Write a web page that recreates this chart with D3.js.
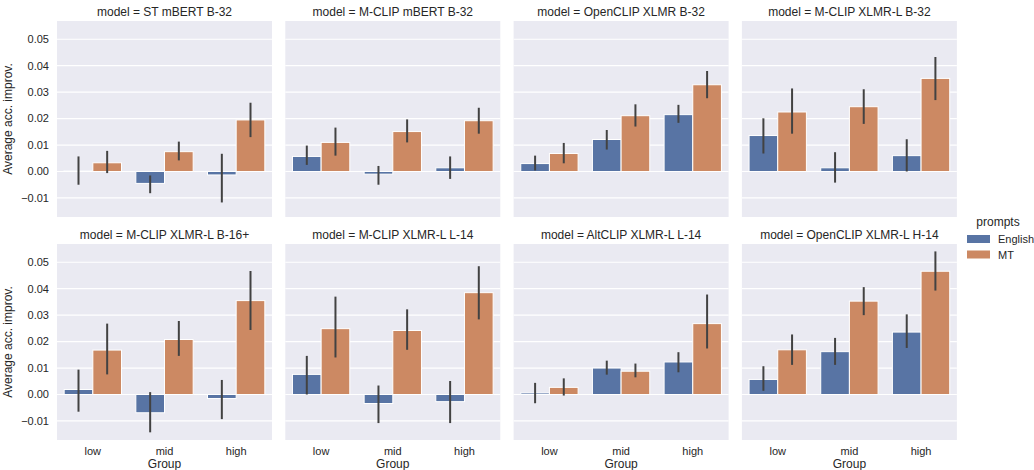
<!DOCTYPE html>
<html>
<head>
<meta charset="utf-8">
<script src="https://cdn.jsdelivr.net/npm/d3@7"></script>
<style>
  body { margin: 0; background: #fff; }
  text { font-family: "Liberation Sans", Arial, sans-serif; fill: #262626; }
</style>
</head>
<body>
<div id="chart"></div>
<script>
// facet titles
var models = ["ST mBERT B-32", "M-CLIP mBERT B-32", "OpenCLIP XLMR B-32", "M-CLIP XLMR-L B-32",
              "M-CLIP XLMR-L B-16+", "M-CLIP XLMR-L L-14", "AltCLIP XLMR-L L-14", "OpenCLIP XLMR-L H-14"];
var groups = ["low", "mid", "high"];
var prompts = ["English", "MT"];
var yTicks = [-0.01, 0, 0.01, 0.02, 0.03, 0.04, 0.05];

// means per model (low, mid, high)
var englishMean = [
  [0.0003, -0.0045, -0.0013],
  [0.0057, -0.0010, 0.0014],
  [0.0030, 0.0121, 0.0215],
  [0.0136, 0.0014, 0.0060],
  [0.0019, -0.0069, -0.0015],
  [0.0076, -0.0034, -0.0027],
  [0.0006, 0.0100, 0.0123],
  [0.0057, 0.0162, 0.0236]
];
var mtMean = [
  [0.0033, 0.0075, 0.0195],
  [0.0110, 0.0151, 0.0192],
  [0.0068, 0.0211, 0.0328],
  [0.0225, 0.0245, 0.0352],
  [0.0168, 0.0208, 0.0355],
  [0.0249, 0.0242, 0.0385],
  [0.0027, 0.0088, 0.0268],
  [0.0169, 0.0353, 0.0466]
];
// confidence intervals
var englishLo = [
  [-0.0050, -0.0082, -0.0117],
  [0.0025, -0.0050, -0.0028],
  [0.0004, 0.0083, 0.0184],
  [0.0068, -0.0042, 0.0000],
  [-0.0065, -0.0143, -0.0093],
  [0.0000, -0.0108, -0.0108],
  [-0.0033, 0.0075, 0.0084],
  [0.0014, 0.0112, 0.0176]
];
var englishHi = [
  [0.0057, -0.0015, 0.0067],
  [0.0098, 0.0021, 0.0057],
  [0.0060, 0.0157, 0.0252],
  [0.0201, 0.0073, 0.0122],
  [0.0094, 0.0009, 0.0055],
  [0.0146, 0.0034, 0.0051],
  [0.0044, 0.0128, 0.0160],
  [0.0107, 0.0214, 0.0303]
];
var mtLo = [
  [-0.0006, 0.0042, 0.0130],
  [0.0060, 0.0110, 0.0143],
  [0.0031, 0.0170, 0.0277],
  [0.0143, 0.0180, 0.0270],
  [0.0076, 0.0146, 0.0244],
  [0.0140, 0.0169, 0.0284],
  [-0.0004, 0.0065, 0.0174],
  [0.0112, 0.0300, 0.0393]
];
var mtHi = [
  [0.0078, 0.0113, 0.0260],
  [0.0166, 0.0197, 0.0241],
  [0.0108, 0.0254, 0.0380],
  [0.0314, 0.0311, 0.0433],
  [0.0268, 0.0278, 0.0467],
  [0.0370, 0.0322, 0.0485],
  [0.0061, 0.0117, 0.0378],
  [0.0227, 0.0406, 0.0541]
];

// seaborn "deep" with the barplot's 0.75 saturation
var colors = ["#5874A4", "#CC8963"];
var W = 1034, H = 470;
var left = 57, pw = 215, gap = 13.3;
var rowTop = [21, 244], ph = 196;

var svg = d3.select("#chart").append("svg").attr("width", W).attr("height", H);

var x0 = d3.scaleBand().domain(groups).range([0, pw]).paddingInner(0.2).paddingOuter(0.1);
var x1 = d3.scaleBand().domain(prompts).range([0, x0.bandwidth()]);
var y = d3.scaleLinear().domain([-0.0172, 0.0569]).range([ph, 0]);
var fmt = d3.format(".2f");

models.forEach(function(m, i) {
  var row = Math.floor(i / 4), col = i % 4;
  var g = svg.append("g")
    .attr("transform", "translate(" + (left + col * (pw + gap)) + "," + rowTop[row] + ")");

  g.append("rect").attr("width", pw).attr("height", ph).attr("fill", "#EAEAF2");

  g.selectAll(".grid").data(yTicks).enter().append("line")
    .attr("x1", 0).attr("x2", pw)
    .attr("y1", d => y(d)).attr("y2", d => y(d))
    .attr("stroke", "#fff").attr("stroke-width", 1.2);

  g.append("text").attr("x", pw / 2).attr("y", -5)
    .attr("text-anchor", "middle").attr("font-size", "12px")
    .text("model = " + m);

  var rows = [];
  groups.forEach(function(gr, j) {
    rows.push({grp: gr, p: 0, v: englishMean[i][j], lo: englishLo[i][j], hi: englishHi[i][j]});
    rows.push({grp: gr, p: 1, v: mtMean[i][j], lo: mtLo[i][j], hi: mtHi[i][j]});
  });

  g.selectAll(".bar").data(rows).enter().append("rect")
    .attr("x", d => x0(d.grp) + x1(prompts[d.p]))
    .attr("width", x1.bandwidth())
    .attr("y", d => y(Math.max(0, d.v)))
    .attr("height", d => Math.abs(y(d.v) - y(0)))
    .attr("fill", d => colors[d.p])
    .attr("stroke", "#fff").attr("stroke-width", 1);

  g.selectAll(".err").data(rows).enter().append("line")
    .attr("x1", d => x0(d.grp) + x1(prompts[d.p]) + x1.bandwidth() / 2)
    .attr("x2", d => x0(d.grp) + x1(prompts[d.p]) + x1.bandwidth() / 2)
    .attr("y1", d => y(d.lo)).attr("y2", d => y(d.hi))
    .attr("stroke", "#424242").attr("stroke-width", 2);

  if (col === 0) {
    g.selectAll(".yt").data(yTicks).enter().append("text")
      .attr("x", -8).attr("y", d => y(d)).attr("dy", "0.35em")
      .attr("text-anchor", "end").attr("font-size", "11px")
      .text(d => fmt(d));
    g.append("text")
      .attr("transform", "translate(" + (-45) + "," + (ph / 2) + ") rotate(-90)")
      .attr("text-anchor", "middle").attr("font-size", "12px")
      .text("Average acc. improv.");
  }
  if (row === 1) {
    g.selectAll(".xt").data(groups).enter().append("text")
      .attr("x", d => x0(d) + x0.bandwidth() / 2).attr("y", ph + 15)
      .attr("text-anchor", "middle").attr("font-size", "11px")
      .text(d => d);
    g.append("text").attr("x", pw / 2).attr("y", ph + 28)
      .attr("text-anchor", "middle").attr("font-size", "12px")
      .text("Group");
  }
});

// legend
var lg = svg.append("g").attr("transform", "translate(967,0)");
lg.append("text").attr("x", 31).attr("y", 225.5).attr("text-anchor", "middle")
  .attr("font-size", "12px").text("prompts");
prompts.forEach(function(p, k) {
  lg.append("rect").attr("x", 0).attr("y", 235 + k * 15.5).attr("width", 23).attr("height", 8)
    .attr("fill", colors[k]);
  lg.append("text").attr("x", 31).attr("y", 243 + k * 15.5)
    .attr("font-size", "11px").text(p);
});
</script>
</body>
</html>
